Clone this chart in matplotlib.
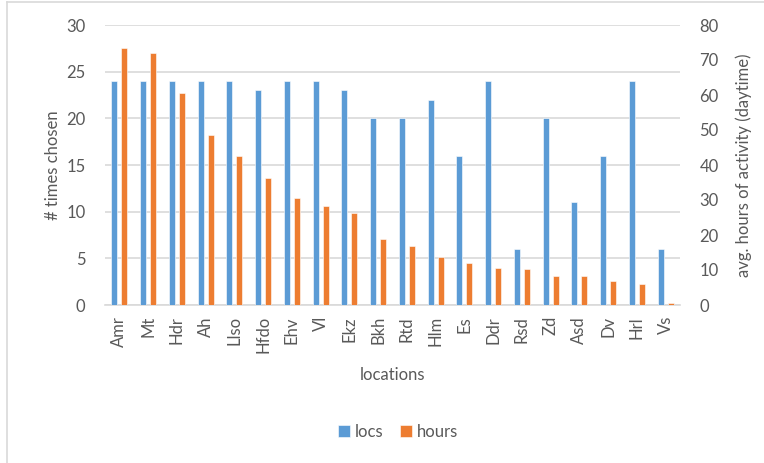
import matplotlib.pyplot as plt
import matplotlib.lines as mlines
import numpy as np

# data
locations = ['Amr', 'Mt', 'Hdr', 'Ah', 'Llso', 'Hfdo', 'Ehv', 'Vl', 'Ekz', 'Bkh',
             'Rtd', 'Hlm', 'Es', 'Ddr', 'Rsd', 'Zd', 'Asd', 'Dv', 'Hrl', 'Vs']
locs = [24, 24, 24, 24, 24, 23, 24, 24, 23, 20, 20, 22, 16, 24, 6, 20, 11, 16, 24, 6]
hours = [73.3, 71.9, 60.5, 48.6, 42.7, 36.2, 30.7, 28.4, 26.2, 18.8,
         17.0, 13.8, 11.9, 10.7, 10.2, 8.4, 8.4, 7.0, 6.0, 0.5]

blue = '#5B9BD5'
orange = '#ED7D31'
txt = '#595959'
grid = '#D9D9D9'

plt.rcParams['font.family'] = ['Lato', 'DejaVu Sans']

fig = plt.figure(figsize=(7.64, 4.63), dpi=100)
ax = fig.add_axes([105 / 764, 1 - 305 / 463, 575 / 764, 280 / 463])
ax2 = ax.twinx()

x = np.arange(len(locations))
w = 0.21
ax.bar(x - 0.175, locs, width=w, color=blue, edgecolor='white', linewidth=0.4, label='locs', zorder=3)
ax2.bar(x + 0.175, hours, width=w, color=orange, edgecolor='white', linewidth=0.4, label='hours', zorder=3)

ax.set_xlim(-0.5, len(locations) - 0.5)
ax.set_ylim(0, 30)
ax2.set_ylim(0, 80)
ax.set_yticks(range(0, 31, 5))
ax2.set_yticks(range(0, 81, 10))
ax.yaxis.grid(True, color=grid, linewidth=1.2, zorder=0)
ax.set_axisbelow(True)

ax.set_xticks(x)
ax.set_xticklabels(locations, rotation=90)

for a in (ax, ax2):
    for s in a.spines.values():
        s.set_visible(False)
    a.tick_params(length=0, colors=txt, labelsize=12)
ax.spines['bottom'].set_visible(True)
ax.spines['bottom'].set_color(grid)
ax.spines['bottom'].set_linewidth(1.2)
ax.tick_params(axis='y', pad=14)
ax2.tick_params(axis='y', pad=14)
ax.tick_params(axis='x', pad=8)

ax.set_ylabel('# times chosen', color=txt, fontsize=12, labelpad=4)
ax2.set_ylabel('avg. hours of activity (daytime)', color=txt, fontsize=12, labelpad=12)
ax.set_xlabel('locations', color=txt, fontsize=12, labelpad=10)

h1, l1 = ax.get_legend_handles_labels()
h2, l2 = ax2.get_legend_handles_labels()
fig.legend(h1 + h2, l1 + l2, loc='center', bbox_to_anchor=(398 / 764, 1 - 432 / 463),
           ncol=2, frameon=False, fontsize=12, labelcolor=txt,
           handlelength=0.7, handleheight=0.7, handletextpad=0.3, columnspacing=1.0)

# chart frame (left and top edges visible)
fig.add_artist(mlines.Line2D([7 / 764, 7 / 764], [0, 1 - 2 / 463], color=grid, linewidth=1.2))
fig.add_artist(mlines.Line2D([7 / 764, 1], [1 - 2 / 463, 1 - 2 / 463], color=grid, linewidth=1.2))

fig.savefig('out.png', dpi=100)
